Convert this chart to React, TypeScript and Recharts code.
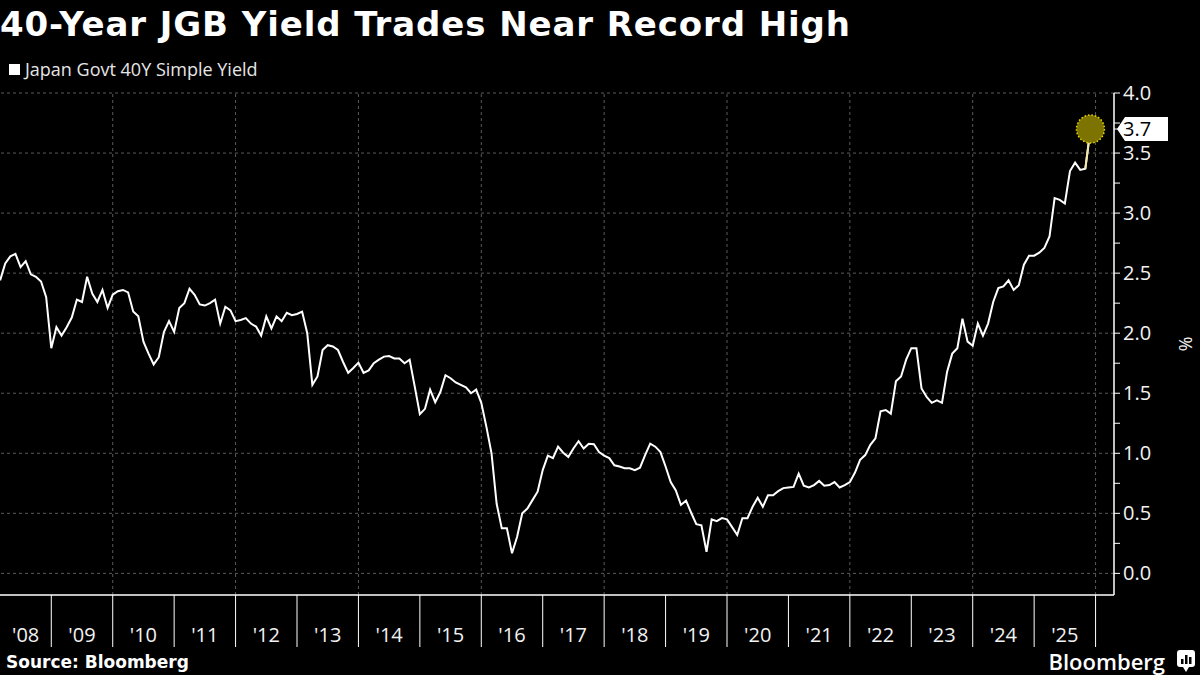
import { LineChart, Line, XAxis, YAxis, ReferenceLine } from "recharts";

// monthly 40Y JGB simple yield (%), series starts March 2008
const startYear = 2008;
const startMonth = 3;
const y2008 = [2.44, 2.58, 2.64, 2.66, 2.55, 2.6, 2.49, 2.47, 2.43, 2.3];
const y2009 = [1.875, 2.05, 1.98, 2.05, 2.13, 2.28, 2.26, 2.47, 2.33, 2.26, 2.36, 2.21];
const y2010 = [2.32, 2.35, 2.36, 2.34, 2.18, 2.14, 1.93, 1.83, 1.74, 1.8, 2.01, 2.1];
const y2011 = [2.01, 2.21, 2.25, 2.37, 2.32, 2.24, 2.23, 2.25, 2.28, 2.08, 2.22, 2.19];
const y2012 = [2.1, 2.11, 2.125, 2.08, 2.055, 1.98, 2.14, 2.04, 2.14, 2.1, 2.17, 2.15];
const y2013 = [2.16, 2.18, 2.0, 1.57, 1.64, 1.86, 1.9, 1.89, 1.86, 1.76, 1.67, 1.71];
const y2014 = [1.755, 1.67, 1.69, 1.75, 1.78, 1.805, 1.81, 1.79, 1.79, 1.75, 1.78, 1.555];
const y2015 = [1.325, 1.37, 1.53, 1.425, 1.51, 1.65, 1.625, 1.59, 1.57, 1.55, 1.5, 1.53];
const y2016 = [1.42, 1.22, 1.0, 0.58, 0.375, 0.375, 0.167, 0.305, 0.5, 0.54, 0.61, 0.68];
const y2017 = [0.86, 0.98, 0.96, 1.055, 1.005, 0.97, 1.04, 1.1, 1.04, 1.08, 1.075, 1.01];
const y2018 = [0.98, 0.96, 0.9, 0.89, 0.875, 0.875, 0.86, 0.88, 0.985, 1.08, 1.055, 1.01];
const y2019 = [0.89, 0.76, 0.69, 0.57, 0.605, 0.505, 0.41, 0.4, 0.18, 0.45, 0.435, 0.46];
const y2020 = [0.45, 0.385, 0.32, 0.46, 0.46, 0.555, 0.63, 0.555, 0.65, 0.65, 0.685, 0.71];
const y2021 = [0.715, 0.72, 0.83, 0.73, 0.715, 0.735, 0.77, 0.73, 0.735, 0.76, 0.715, 0.735];
const y2022 = [0.76, 0.84, 0.945, 0.985, 1.07, 1.125, 1.35, 1.36, 1.33, 1.6, 1.64, 1.78];
const y2023 = [1.875, 1.875, 1.54, 1.47, 1.42, 1.44, 1.42, 1.68, 1.83, 1.875, 2.12, 1.93];
const y2024 = [1.895, 2.08, 1.98, 2.08, 2.26, 2.375, 2.39, 2.44, 2.36, 2.4, 2.57, 2.645];
const y2025 = [2.645, 2.67, 2.71, 2.805, 3.125, 3.11, 3.08, 3.35, 3.42, 3.36, 3.37, 3.7];

const yields = [
  ...y2008, ...y2009, ...y2010, ...y2011, ...y2012, ...y2013,
  ...y2014, ...y2015, ...y2016, ...y2017, ...y2018, ...y2019,
  ...y2020, ...y2021, ...y2022, ...y2023, ...y2024, ...y2025,
];

const yearLabels = ["'08", "'09", "'10", "'11", "'12", "'13", "'14", "'15", "'16", "'17", "'18", "'19", "'20", "'21", "'22", "'23", "'24", "'25"];
const yearBreaks = [2009, 2010, 2011, 2012, 2013, 2014, 2015, 2016, 2017, 2018, 2019, 2020, 2021, 2022, 2023, 2024, 2025, 2026];
const gridYears = [2010, 2012, 2014, 2016, 2018, 2020, 2022, 2024, 2026];
const yTicks = [0, 0.25, 0.5, 0.75, 1, 1.25, 1.5, 1.75, 2, 2.25, 2.5, 2.75, 3, 3.25, 3.5, 3.75, 4];
const yGrid = [0, 0.5, 1, 1.5, 2, 2.5, 3, 3.5, 4];
const lastLabel = 3.7;

const xDomain: [number, number] = [2008.165, 2026.3];
const yDomain: [number, number] = [-0.18, 4];

const n = yields.length;
const data = yields.map((v, i) => ({
  t: startYear + (startMonth - 1 + i) / 12,
  v,
  hl: i >= n - 2 ? v : null,
  marker: i === n - 1 ? v : null,
}));

const labelTicks = yearLabels.map((_, i) => {
  const y0 = startYear + i;
  const lo = Math.max(y0, xDomain[0]);
  return (lo + y0 + 1) / 2;
});

const TICK_FONT = "'Open Sans', 'DejaVu Sans', sans-serif";
const GRID = "#5a5a5a";

// year separator below the plot, drawn from the tick position
function SepTick(props: any) {
  const { x, y } = props;
  return <line x1={x} x2={x} y1={y} y2={y + 52} stroke="#ffffff" strokeWidth={1} />;
}

function XTick(props: any) {
  const { x, y, payload } = props;
  const idx = Math.floor(payload.value) - startYear;
  return (
    <text x={x} y={y + 46} textAnchor="middle" fill="#f2f2f2" fontSize={20} fontFamily={TICK_FONT}>
      {yearLabels[idx]}
    </text>
  );
}

function YTick(props: any) {
  const { x, y, payload } = props;
  const v = payload.value;
  if (v === lastLabel) {
    return (
      <g>
        <polygon
          points={`${x - 6},${y} ${x + 2},${y - 12} ${x + 45},${y - 12} ${x + 45},${y + 12} ${x + 2},${y + 12}`}
          fill="#ffffff"
        />
        <text x={x} y={y + 7} fill="#000" fontSize={20} fontFamily={TICK_FONT}>
          {v.toFixed(1)}
        </text>
      </g>
    );
  }
  if (Math.abs(v * 2 - Math.round(v * 2)) > 1e-9) return <g />;
  return (
    <text x={x} y={y + 7} fill="#f2f2f2" fontSize={20} fontFamily={TICK_FONT}>
      {v.toFixed(1)}
    </text>
  );
}

function MarkerDot(props: any) {
  const { cx, cy, value, index } = props;
  if (value == null || cx == null || cy == null) return <g key={`m${index}`} />;
  return (
    <circle
      key={`m${index}`}
      cx={cx}
      cy={cy}
      r={14}
      fill="#7d7300"
      stroke="#e8d600"
      strokeWidth={1.5}
      strokeDasharray="1.5 2"
    />
  );
}

export default function App() {
  return (
    <div
      style={{
        position: "absolute",
        left: 0,
        top: 0,
        width: 1200,
        height: 675,
        background: "#000",
        overflow: "hidden",
      }}
    >
      <LineChart
        width={1200}
        height={675}
        data={data}
        margin={{ top: 93, right: 0, bottom: 28, left: 0 }}
      >
        <XAxis
          xAxisId="b"
          dataKey="t"
          type="number"
          domain={xDomain}
          allowDataOverflow
          ticks={labelTicks}
          interval={0}
          tickLine={false}
          axisLine={false}
          tickSize={0}
          tickMargin={0}
          tick={<XTick />}
          height={51}
        />
        <XAxis
          xAxisId="a"
          dataKey="t"
          type="number"
          domain={xDomain}
          allowDataOverflow
          ticks={yearBreaks}
          interval={0}
          tick={<SepTick />}
          tickSize={0}
          tickMargin={0}
          tickLine={false}
          axisLine={{ stroke: "#ffffff", strokeWidth: 1.5 }}
          height={1}
        />
        <YAxis
          yAxisId="y"
          orientation="right"
          type="number"
          domain={yDomain}
          allowDataOverflow
          ticks={[...yTicks, lastLabel]}
          interval={0}
          width={86}
          tickSize={6}
          tickMargin={3}
          tickLine={{ stroke: "#ffffff" }}
          axisLine={{ stroke: "#ffffff", strokeWidth: 1.5 }}
          tick={<YTick />}
          label={{
            content: (p: any) => {
              const vb = p.viewBox;
              const cx = vb.x + vb.width - 14;
              const cy = vb.y + vb.height / 2;
              return (
                <text
                  x={cx}
                  y={cy}
                  transform={`rotate(90, ${cx}, ${cy})`}
                  textAnchor="middle"
                  dominantBaseline="central"
                  fill="#f2f2f2"
                  fontSize={18}
                  fontFamily={TICK_FONT}
                >
                  %
                </text>
              );
            },
          }}
        />
        {yGrid.map((g) => (
          <ReferenceLine
            key={`h${g}`}
            xAxisId="a"
            yAxisId="y"
            y={g}
            stroke={GRID}
            strokeDasharray="3 3"
          />
        ))}
        {gridYears.map((g) => (
          <ReferenceLine
            key={`v${g}`}
            xAxisId="a"
            yAxisId="y"
            x={g}
            stroke={GRID}
            strokeDasharray="3 3"
          />
        ))}
        <Line
          xAxisId="a"
          yAxisId="y"
          dataKey="marker"
          stroke="none"
          dot={MarkerDot}
          activeDot={false}
          isAnimationActive={false}
        />
        <Line
          xAxisId="a"
          yAxisId="y"
          dataKey="v"
          type="linear"
          stroke="#ffffff"
          strokeWidth={2}
          dot={false}
          activeDot={false}
          isAnimationActive={false}
        />
        <Line
          xAxisId="a"
          yAxisId="y"
          dataKey="hl"
          type="linear"
          stroke="#f3eaa6"
          strokeWidth={2}
          dot={false}
          activeDot={false}
          isAnimationActive={false}
        />
      </LineChart>

      <svg
        width={1200}
        height={675}
        style={{ position: "absolute", left: 0, top: 0, pointerEvents: "none" }}
      >
        <text
          x={0}
          y={36}
          fill="#ffffff"
          fontSize={34}
          fontWeight="bold"
          letterSpacing={0.9}
          fontFamily="'DejaVu Sans', sans-serif"
        >
          40-Year JGB Yield Trades Near Record High
        </text>
        <rect x={9} y={64} width={11} height={11} fill="#ffffff" />
        <text x={25} y={76} fill="#e6e6e6" fontSize={18} fontFamily={TICK_FONT}>
          Japan Govt 40Y Simple Yield
        </text>
        <text
          x={6}
          y={668}
          fill="#ffffff"
          fontSize={17}
          fontWeight="bold"
          fontFamily="'DejaVu Sans', sans-serif"
        >
          Source: Bloomberg
        </text>
        <text
          x={1165}
          y={670}
          textAnchor="end"
          fill="#ffffff"
          fontSize={22}
          fontWeight={600}
          fontFamily="'Open Sans', sans-serif"
        >
          Bloomberg
        </text>
        <rect x={1177} y={650} width={18} height={17} rx={3} fill="#ffffff" />
        <polygon points="1183,667 1189,667 1186,672" fill="#ffffff" />
        <rect x={1181} y={659} width={2.5} height={5} fill="#000" />
        <rect x={1185} y={655} width={2.5} height={9} fill="#000" />
        <rect x={1189} y={657} width={2.5} height={7} fill="#000" />
      </svg>
    </div>
  );
}
